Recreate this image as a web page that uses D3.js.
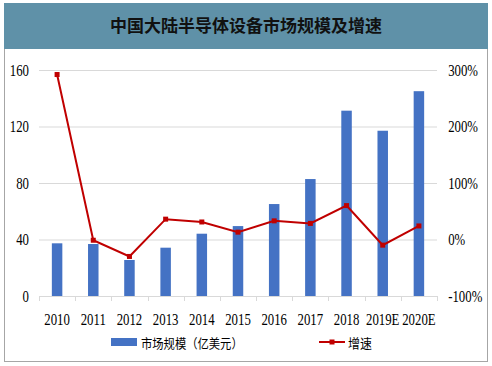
<!DOCTYPE html>
<html>
<head>
<meta charset="utf-8">
<script src="https://cdn.jsdelivr.net/npm/d3@7"></script>
<style>
  body { margin: 0; background: #fff; }
  svg text { font-family: "Liberation Serif", "Times New Roman", serif; }
</style>
</head>
<body>
<div id="chart"></div>
<script>
'use strict';

var years = ['2010', '2011', '2012', '2013', '2014', '2015', '2016', '2017', '2018', '2019E', '2020E'];
var marketSize = [37.3, 36.8, 25.5, 34.2, 44.1, 49.5, 65.1, 82.8, 131.2, 117.0, 145.0];
var growth = [2.92, -0.013, -0.30, 0.36, 0.31, 0.13, 0.33, 0.285, 0.60, -0.10, 0.24];
var leftTicks = [0, 40, 80, 120, 160];
var rightTicks = [-1, 0, 1, 2, 3];

var W = 492, H = 366;
var svg = d3.select('#chart').append('svg').attr('width', W).attr('height', H);

// frame + title bar
svg.append('rect').attr('x', 4.5).attr('y', 3.5).attr('width', 483).attr('height', 358)
  .attr('fill', '#fff').attr('stroke', '#a6a6a6');
svg.append('rect').attr('x', 4).attr('y', 3).attr('width', 484).attr('height', 46).attr('fill', '#5f91a8');
svg.append('text').attr('x', 246).attr('y', 32).attr('text-anchor', 'middle')
  .style('font-family', '"Noto Sans CJK SC", sans-serif').style('font-weight', 'bold')
  .style('font-size', '17px').attr('fill', '#111').text('中国大陆半导体设备市场规模及增速');

var pLeft = 39, pRight = 437, pTop = 70, pBottom = 296;

var x = d3.scaleBand().domain(years).range([pLeft, pRight]).paddingInner(0.71).paddingOuter(0.355);
var xb = d3.scaleBand().domain(years).range([pLeft, pRight]);
var y = d3.scaleLinear().domain([0, 160]).range([pBottom, pTop]);
var y2 = d3.scaleLinear().domain([-1, 3]).range([pBottom, pTop]);

// gridlines
svg.append('g').selectAll('line').data(leftTicks).join('line')
  .attr('x1', pLeft).attr('x2', pRight)
  .attr('y1', d => y(d) + 0.5).attr('y2', d => y(d) + 0.5)
  .attr('stroke', '#d9d9d9').attr('stroke-width', 1);

// bars
svg.append('g').selectAll('rect').data(marketSize).join('rect')
  .attr('x', (d, i) => x(years[i]))
  .attr('y', d => y(d))
  .attr('width', x.bandwidth())
  .attr('height', d => pBottom - y(d))
  .attr('fill', '#4472c4');

// tick separators
svg.append('g').selectAll('line').data(d3.range(years.length + 1)).join('line')
  .attr('x1', i => Math.round(pLeft + i * xb.bandwidth()) + 0.5)
  .attr('x2', i => Math.round(pLeft + i * xb.bandwidth()) + 0.5)
  .attr('y1', pBottom).attr('y2', pBottom + 5).attr('stroke', '#d9d9d9');

// x labels
svg.append('g').selectAll('text').data(years).join('text')
  .attr('transform', d => 'translate(' + (xb(d) + xb.bandwidth() / 2) + ',' + (pBottom + 29) + ') scale(0.8,1)')
  .attr('text-anchor', 'middle').style('font-size', '16px').attr('fill', '#000')
  .text(d => d);

// left axis
var yAxis = svg.append('g').attr('transform', 'translate(' + pLeft + ',0)')
  .call(d3.axisLeft(y).tickValues(leftTicks).tickSize(0).tickPadding(10));
yAxis.select('.domain').remove();
yAxis.selectAll('text').style('font-size', '16px').attr('fill', '#000')
  .attr('transform', 'scale(0.8,1)').attr('x', -12.5);

// right axis
var y2Axis = svg.append('g').attr('transform', 'translate(' + pRight + ',0)')
  .call(d3.axisRight(y2).tickValues(rightTicks).tickSize(0).tickPadding(10).tickFormat(d => Math.round(d * 100) + '%'));
y2Axis.select('.domain').remove();
y2Axis.selectAll('text').style('font-size', '16px').attr('fill', '#000')
  .attr('transform', 'scale(0.8,1)').attr('x', 14);

// growth line
var line = d3.line().x((d, i) => xb(years[i]) + xb.bandwidth() / 2).y(d => y2(d));
svg.append('path').datum(growth).attr('d', line)
  .attr('fill', 'none').attr('stroke', '#c00000').attr('stroke-width', 2);
svg.append('g').selectAll('rect').data(growth).join('rect')
  .attr('x', (d, i) => xb(years[i]) + xb.bandwidth() / 2 - 2.5)
  .attr('y', d => y2(d) - 2.5)
  .attr('width', 5).attr('height', 5).attr('fill', '#c00000');

// legend
var lg = svg.append('g');
lg.append('rect').attr('x', 111).attr('y', 338).attr('width', 26).attr('height', 8).attr('fill', '#4472c4');
lg.append('text').attr('transform', 'translate(141,348) scale(0.87,1)').style('font-size', '13px')
  .style('font-family', '"Noto Sans CJK SC", serif').attr('fill', '#000').text('市场规模（亿美元）');
lg.append('line').attr('x1', 319).attr('x2', 345).attr('y1', 342).attr('y2', 342)
  .attr('stroke', '#c00000').attr('stroke-width', 2);
lg.append('rect').attr('x', 329.5).attr('y', 339.5).attr('width', 5).attr('height', 5).attr('fill', '#c00000');
lg.append('text').attr('transform', 'translate(348,348) scale(0.92,1)').style('font-size', '13px')
  .style('font-family', '"Noto Sans CJK SC", serif').attr('fill', '#000').text('增速');
</script>
</body>
</html>
